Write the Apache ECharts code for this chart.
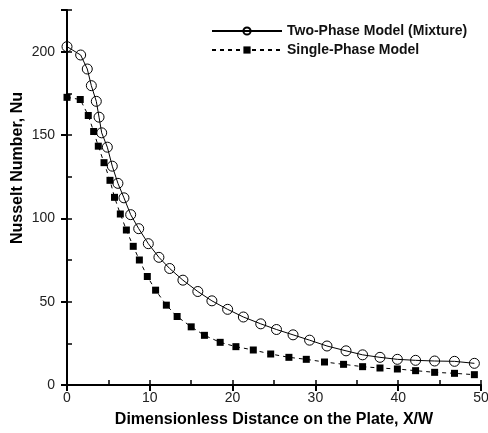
<!DOCTYPE html>
<html>
<head>
<meta charset="utf-8">
<script src="https://cdn.jsdelivr.net/npm/echarts@6/dist/echarts.min.js"></script>
<style>
  html, body { margin: 0; padding: 0; background: #fff; }
  #chart { width: 488px; height: 433px; }
</style>
</head>
<body>
<div id="chart"></div>
<script>
// two-phase model (mixture)
const twoPhaseX = [0, 1.65, 2.45, 2.94, 3.54, 3.87, 4.19, 4.87, 5.47, 6.15, 6.88, 7.69, 8.66, 9.82, 11.1, 12.4, 14.0, 15.8, 17.5, 19.4, 21.3, 23.4, 25.3, 27.3, 29.3, 31.4, 33.7, 35.7, 37.8, 39.9, 42.1, 44.4, 46.8, 49.2];
const twoPhaseNu = [203, 198, 189.6, 179.6, 170.2, 160.7, 151.3, 142.7, 131.3, 121, 112.3, 102.2, 93.8, 84.8, 76.6, 69.9, 62.9, 56.1, 50.5, 45.4, 40.8, 36.7, 33.3, 30.1, 26.9, 23.4, 20.5, 18.1, 16.6, 15.4, 14.8, 14.4, 14.2, 13.0];

// single-phase model
const singlePhaseX = [0, 1.6, 2.57, 3.22, 3.78, 4.47, 5.19, 5.74, 6.44, 7.17, 8.0, 8.74, 9.7, 10.7, 12.0, 13.3, 15.0, 16.6, 18.5, 20.4, 22.5, 24.6, 26.8, 28.9, 31.1, 33.4, 35.7, 37.8, 39.9, 42.1, 44.4, 46.8, 49.2];
const singlePhaseNu = [172.6, 171.3, 161.7, 152.1, 143.3, 133.4, 122.8, 112.6, 102.6, 93.0, 83.2, 75.0, 65.1, 56.9, 47.9, 41.1, 34.9, 29.8, 25.6, 23.0, 21.0, 18.6, 16.6, 15.4, 13.8, 12.4, 11.0, 10.2, 9.6, 8.6, 7.6, 7.0, 6.2];

const xTickLabels = [0, 10, 20, 30, 40, 50];
const yTickLabels = [0, 50, 100, 150, 200];

const font = 'Liberation Sans, Arial, sans-serif';
const pairs = (xs, ys) => xs.map((x, i) => [x, ys[i]]);

const chart = echarts.init(document.getElementById('chart'));

// axis 0 carries the labels and the inward ticks, axis 1 the outward major ticks
const xBase = { type: 'value', min: 0, max: 50, position: 'bottom', splitLine: { show: false } };
const yBase = { type: 'value', min: 0, max: 225, position: 'left', splitLine: { show: false } };

chart.setOption({
  animation: false,
  grid: { left: 67, right: 7, top: 10, bottom: 48, containLabel: false, outerBoundsMode: 'none' },
  // y title sits higher than the axis middle in the original
  graphic: [{
    type: 'text',
    x: 18,
    y: 168,
    rotation: Math.PI / 2,
    style: {
      text: 'Nusselt Number, Nu',
      fontFamily: font, fontSize: 16, fontWeight: 'bold', fill: '#000',
      align: 'center', verticalAlign: 'middle'
    }
  }],
  legend: {
    orient: 'vertical',
    left: 206,
    top: 19,
    itemWidth: 70,
    itemHeight: 9,
    itemGap: 5,
    textStyle: { fontFamily: font, fontSize: 14, fontWeight: 'bold', color: '#111' },
    data: ['Two-Phase Model (Mixture)', 'Single-Phase Model']
  },
  xAxis: [
    Object.assign({}, xBase, {
      interval: 5,
      name: 'Dimensionless Distance on the Plate, X/W',
      nameLocation: 'middle',
      nameGap: 27,
      nameTextStyle: { fontFamily: font, fontSize: 16, fontWeight: 'bold', color: '#000' },
      axisLine: { lineStyle: { color: '#000', width: 2 } },
      axisTick: { inside: true, length: 5, lineStyle: { color: '#000', width: 1.5 } },
      axisLabel: {
        margin: 6,
        fontFamily: font, fontSize: 14, color: '#222',
        formatter: v => xTickLabels.includes(v) ? String(v) : ''
      }
    }),
    Object.assign({}, xBase, {
      interval: 10,
      axisLine: { show: false },
      axisTick: { inside: false, length: 6, lineStyle: { color: '#000', width: 2 } },
      axisLabel: { show: false }
    })
  ],
  yAxis: [
    Object.assign({}, yBase, {
      interval: 25,
      axisLine: { lineStyle: { color: '#000', width: 2 } },
      axisTick: { inside: true, length: 5, lineStyle: { color: '#000', width: 1.5 } },
      axisLabel: {
        margin: 12,
        fontFamily: font, fontSize: 14, color: '#222',
        formatter: v => yTickLabels.includes(v) ? String(v) : ''
      }
    }),
    Object.assign({}, yBase, {
      interval: 50,
      axisLine: { show: false },
      axisTick: { inside: false, length: 6, lineStyle: { color: '#000', width: 2 } },
      axisLabel: { show: false }
    })
  ],
  series: [
    {
      name: 'Two-Phase Model (Mixture)',
      type: 'line',
      data: pairs(twoPhaseX, twoPhaseNu),
      symbol: 'circle',
      symbolSize: 10,
      showAllSymbol: true,
      lineStyle: { color: '#000', width: 1 },
      itemStyle: { color: 'rgba(255,255,255,0)', borderColor: '#000', borderWidth: 1 }
    },
    {
      name: 'Single-Phase Model',
      type: 'line',
      data: pairs(singlePhaseX, singlePhaseNu),
      symbol: 'rect',
      symbolSize: 7,
      showAllSymbol: true,
      lineStyle: { color: '#000', width: 1, type: [4, 4] },
      itemStyle: { color: '#000' }
    }
  ]
});
</script>
</body>
</html>
